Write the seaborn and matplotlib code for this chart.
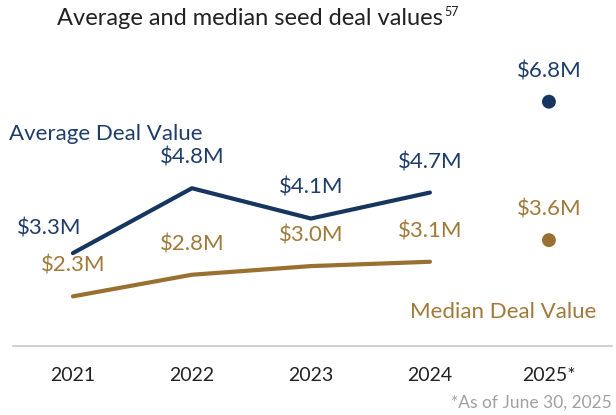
import numpy as np
import pandas as pd
import seaborn as sns
import matplotlib.pyplot as plt

# dados
anos = ["2021", "2022", "2023", "2024", "2025*"]
media = [3.3, 4.8, 4.1, 4.7, 6.8]
mediana = [2.3, 2.8, 3.0, 3.1, 3.6]

navy = "#17365F"
gold = "#9A7030"

df = pd.DataFrame({"pos": range(len(anos)), "ano": anos, "media": media, "mediana": mediana})
hist = df.iloc[:4]
parcial = df.iloc[4:]

sns.set_style("white")
plt.rcParams["font.family"] = ["Lato", "DejaVu Sans"]

fig = plt.figure(figsize=(6.16, 4.15), dpi=100)
ax = fig.add_axes([0.021, 0.166, 0.9725, 0.641])

sns.lineplot(data=hist, x="pos", y="media", color=navy, linewidth=3, ax=ax)
sns.lineplot(data=hist, x="pos", y="mediana", color=gold, linewidth=3, ax=ax)
sns.scatterplot(data=parcial, x="pos", y="media", color=navy, s=100, edgecolor="none", ax=ax)
sns.scatterplot(data=parcial, x="pos", y="mediana", color=gold, s=100, edgecolor="none", ax=ax)

# rótulos dos valores
for i, v in enumerate(media):
    dx = -17 if i == 0 else 0
    dy = 18 if i == 0 else 22
    ax.annotate(f"${v:.1f}M", (i, v), xytext=(dx, dy), textcoords="offset points",
                ha="center", va="center", color="#1F3D6B", fontsize=16)
for i, v in enumerate(mediana):
    ax.annotate(f"${v:.1f}M", (i, v), xytext=(0, 22), textcoords="offset points",
                ha="center", va="center", color="#A07A3A", fontsize=16)

ax.text(-0.54, 6.06, "Average Deal Value", color="#1F3D6B", fontsize=16, ha="left", va="center")
ax.text(4.40, 1.93, "Median Deal Value", color="#A07A3A", fontsize=16, ha="right", va="center")

ax.set_xlim(-0.504, 4.53)
ax.set_ylim(1.15, 7.3)
ax.set_xticks(range(len(anos)))
ax.set_xticklabels(anos, fontsize=14, color="#222222")
ax.set_yticks([])
ax.set_xlabel("")
ax.set_ylabel("")
ax.tick_params(axis="x", length=0, pad=15)
for lado in ["top", "right", "left"]:
    ax.spines[lado].set_visible(False)
ax.spines["bottom"].set_color("#C8C8C8")
ax.spines["bottom"].set_linewidth(1.2)

# título com sobrescrito pequeno
titulo = fig.text(0.093, 0.955, "Average and median seed deal values", ha="left", va="center",
                  fontsize=17, color="#222222")
fig.canvas.draw()
bb = titulo.get_window_extent()
fig.text((bb.x1 + 1) / fig.bbox.width, 0.972, "57", ha="left", va="center",
         fontsize=9, color="#222222")

fig.text(0.993, 0.03, "*As of June 30, 2025", ha="right", va="center", fontsize=12.5, color="#A0A0A0")

fig.savefig("out.png", dpi=100)
